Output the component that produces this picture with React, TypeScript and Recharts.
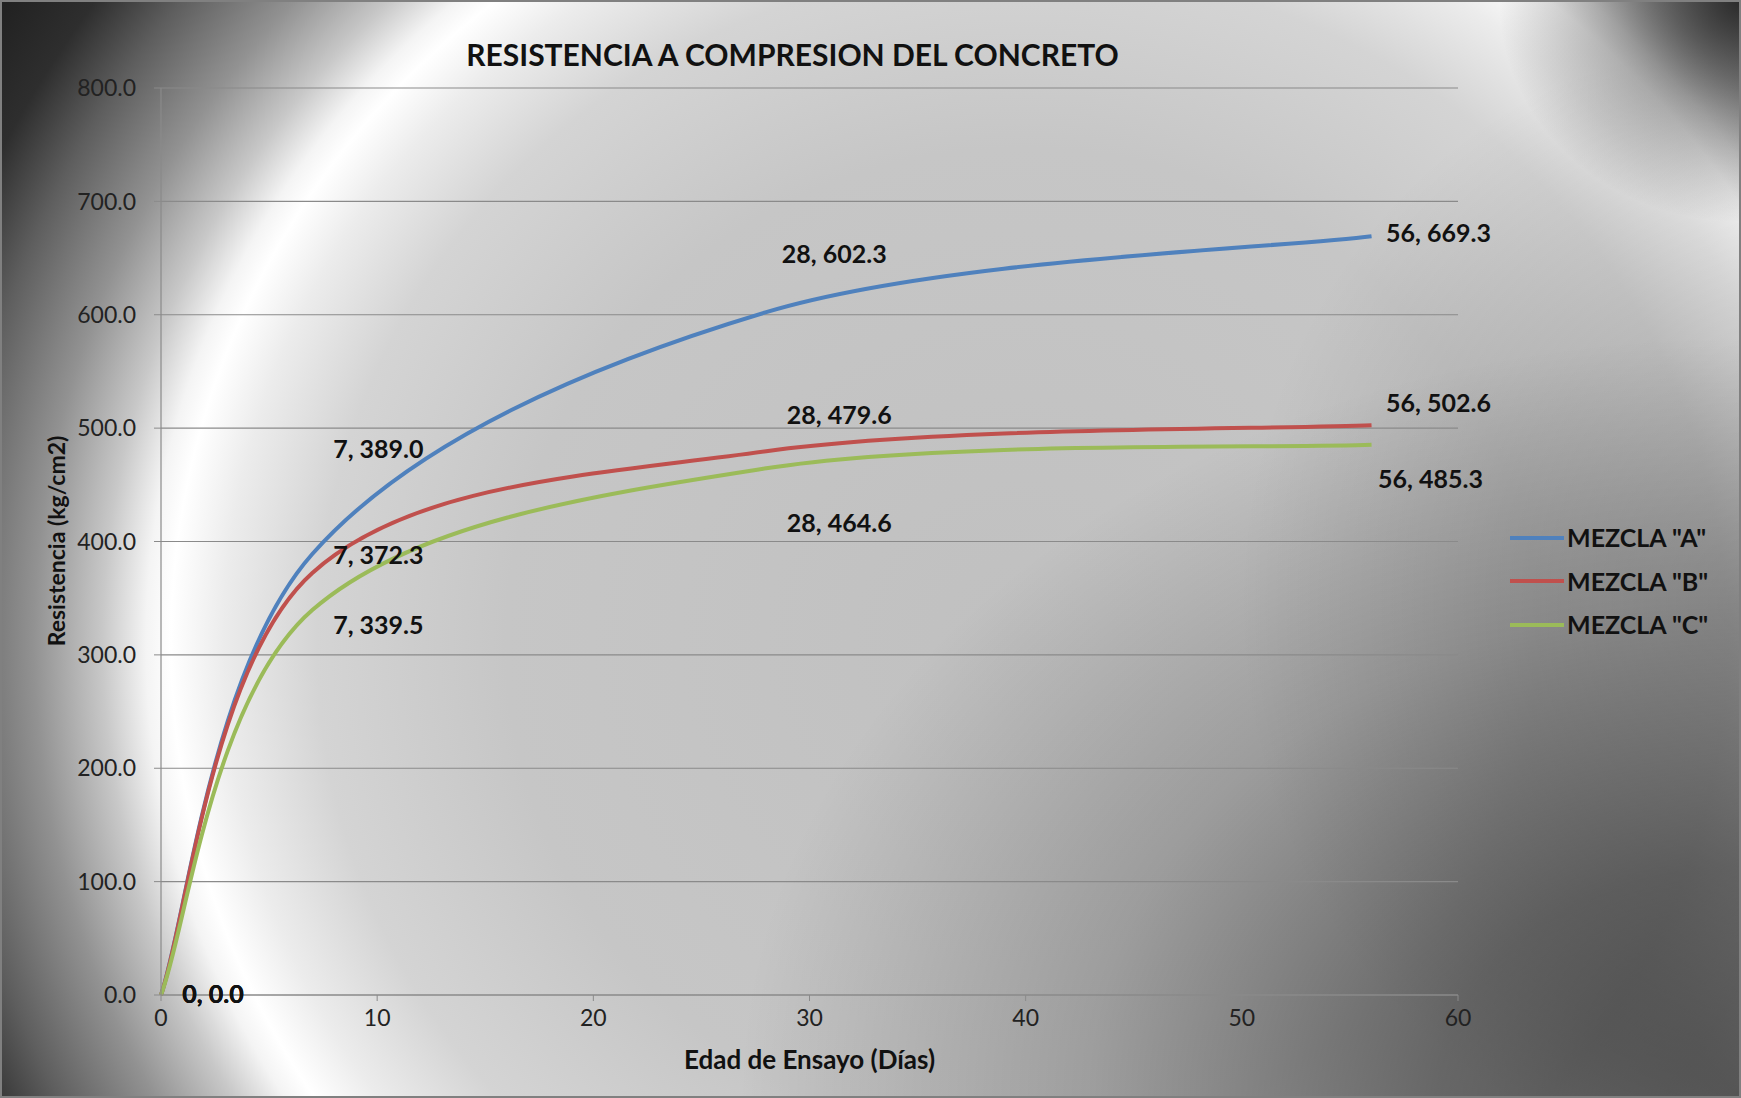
import React from 'react';
import { CartesianGrid, LabelList, Line, LineChart, XAxis, YAxis } from 'recharts';

// ensayos a compresión: edad (días) y resistencia (kg/cm2)
const dias = [0, 7, 28, 56];
const mezclaA = [0.0, 389.0, 602.3, 669.3];
const mezclaB = [0.0, 372.3, 479.6, 502.6];
const mezclaC = [0.0, 339.5, 464.6, 485.3];

const xTicks = [0, 10, 20, 30, 40, 50, 60];
const yTicks = [0, 100, 200, 300, 400, 500, 600, 700, 800];

const series = [
	{ key: 'A', name: 'MEZCLA "A"', values: mezclaA, color: '#4F81BD' },
	{ key: 'B', name: 'MEZCLA "B"', values: mezclaB, color: '#C0504D' },
	{ key: 'C', name: 'MEZCLA "C"', values: mezclaC, color: '#9BBB59' },
];

const data = dias.map((d, i) => ({
	dias: d,
	A: mezclaA[i],
	B: mezclaB[i],
	C: mezclaC[i],
}));

// desplazamiento de cada etiqueta respecto a su punto
const labelOffsets: Record<string, [number, number][]> = {
	A: [[52, -2], [66, -106], [68, -59], [67, -4]],
	B: [[52, -2], [66, -19], [73, -37], [67, -23]],
	C: [[52, -2], [66, 14], [73, 54], [59, 33]],
};

const FONT = 'Lato, "Open Sans", sans-serif';
const W = 1741;
const H = 1098;

// suavizado tipo Excel (Catmull-Rom convertido a Bezier)
const excelSmooth = (context: any) => {
	let pts: [number, number][] = [];
	return {
		areaStart() {},
		areaEnd() {},
		lineStart() {
			pts = [];
		},
		point(x: number, y: number) {
			pts.push([+x, +y]);
		},
		lineEnd() {
			if (!pts.length) return;
			context.moveTo(pts[0][0], pts[0][1]);
			for (let i = 0; i < pts.length - 1; i++) {
				const p0 = pts[Math.max(i - 1, 0)];
				const p1 = pts[i];
				const p2 = pts[i + 1];
				const p3 = pts[Math.min(i + 2, pts.length - 1)];
				context.bezierCurveTo(
					p1[0] + (p2[0] - p0[0]) / 6,
					p1[1] + (p2[1] - p0[1]) / 6,
					p2[0] - (p3[0] - p1[0]) / 6,
					p2[1] - (p3[1] - p1[1]) / 6,
					p2[0],
					p2[1]
				);
			}
		},
	};
};

const makeLabel = (key: string) => (props: any) => {
	const { index, value } = props;
	const x = props.x ?? props.viewBox?.x;
	const y = props.y ?? props.viewBox?.y;
	if (x == null || y == null) return null;
	const [dx, dy] = labelOffsets[key][index] || [0, 0];
	return (
		<text
			x={x + dx}
			y={y + dy}
			textAnchor="middle"
			dominantBaseline="central"
			fontFamily={FONT}
			fontWeight={700}
			fontSize={25}
			fill="#111"
		>
			{`${dias[index]}, ${Number(value).toFixed(1)}`}
		</text>
	);
};

const background = [
	'radial-gradient(ellipse 240px 220px at 100% 0%, rgba(25,25,25,0.85) 0%, rgba(25,25,25,0.4) 50%, rgba(25,25,25,0) 100%)',
	'radial-gradient(ellipse 1000px 760px at 100% 100%, rgba(0,0,0,0.66) 0%, rgba(0,0,0,0.5) 30%, rgba(0,0,0,0.2) 65%, rgba(0,0,0,0) 100%)',
	'radial-gradient(ellipse 500px 560px at 100% 55%, rgba(0,0,0,0.22) 0%, rgba(0,0,0,0.12) 50%, rgba(0,0,0,0) 100%)',
	'radial-gradient(ellipse 1246px 1196px at 1020px 641px, #c0c0c0 0%, #c6c6c6 41.4%, #d4d4d4 56.6%, #ececec 64.1%, #ffffff 68.3%, #f4f4f4 70.3%, #c8c8c8 73.8%, #929292 79.3%, #5e5e5e 86.2%, #2e2e2e 91.7%, #1c1c1c 100%)',
].join(', ');

const tickStyle = { fontFamily: FONT, fontSize: 23, fill: '#222' };

export default function App() {
	return (
		<div
			style={{
				position: 'absolute',
				left: 0,
				top: 0,
				width: W,
				height: H,
				boxSizing: 'border-box',
				border: '2px solid #808080',
				background,
				fontFamily: FONT,
				overflow: 'hidden',
			}}
		>
			<div style={{ position: 'absolute', left: -2, top: -2, width: W, height: H }}>
				<LineChart
					width={W}
					height={H}
					data={data}
					margin={{ top: 88, right: 283, bottom: 43, left: 81 }}
				>
					<CartesianGrid vertical={false} stroke="#8a8a8a" strokeWidth={1.2} />
					<XAxis
						dataKey="dias"
						type="number"
						domain={[0, 60]}
						ticks={xTicks}
						height={60}
						axisLine={{ stroke: '#8a8a8a', strokeWidth: 1.2 }}
						tickLine={{ stroke: '#8a8a8a' }}
						tickSize={6}
						tickMargin={9}
						tick={tickStyle}
					/>
					<YAxis
						type="number"
						domain={[0, 800]}
						ticks={yTicks}
						width={80}
						axisLine={{ stroke: '#8a8a8a', strokeWidth: 1.2 }}
						tickLine={{ stroke: '#8a8a8a' }}
						tickSize={7}
						tickMargin={18}
						tickFormatter={(v: number) => v.toFixed(1)}
						tick={tickStyle}
					/>
					{series.map((s) => (
						<Line
							key={s.key}
							dataKey={s.key}
							name={s.name}
							type={excelSmooth as any}
							stroke={s.color}
							strokeWidth={4}
							dot={false}
							activeDot={false}
							isAnimationActive={false}
						>
							<LabelList dataKey={s.key} content={makeLabel(s.key)} />
						</Line>
					))}
				</LineChart>
			</div>

			<div
				style={{
					position: 'absolute',
					left: 0,
					width: 1581,
					top: 34,
					height: 36,
					lineHeight: '36px',
					textAlign: 'center',
					fontWeight: 700,
					fontSize: 30,
					color: '#111',
				}}
			>
				RESISTENCIA A COMPRESION DEL CONCRETO
			</div>

			<div
				style={{
					position: 'absolute',
					left: 159,
					width: 1297,
					top: 1041,
					height: 32,
					lineHeight: '32px',
					textAlign: 'center',
					fontWeight: 700,
					fontSize: 26,
					color: '#111',
				}}
			>
				Edad de Ensayo (Días)
			</div>

			<div
				style={{
					position: 'absolute',
					left: 54 - 150,
					top: 539 - 15,
					width: 300,
					height: 30,
					lineHeight: '30px',
					textAlign: 'center',
					fontWeight: 700,
					fontSize: 23,
					color: '#111',
					transform: 'rotate(-90deg)',
				}}
			>
				Resistencia (kg/cm2)
			</div>

			<div style={{ position: 'absolute', left: 1508, top: 514 }}>
				{series.map((s) => (
					<div
						key={s.key}
						style={{ display: 'flex', alignItems: 'center', height: 43.5 }}
					>
						<div style={{ width: 54, height: 4, background: s.color }} />
						<span
							style={{
								marginLeft: 3,
								fontWeight: 700,
								fontSize: 25,
								lineHeight: 1,
								color: '#111',
								whiteSpace: 'nowrap',
							}}
						>
							{s.name}
						</span>
					</div>
				))}
			</div>
		</div>
	);
}
